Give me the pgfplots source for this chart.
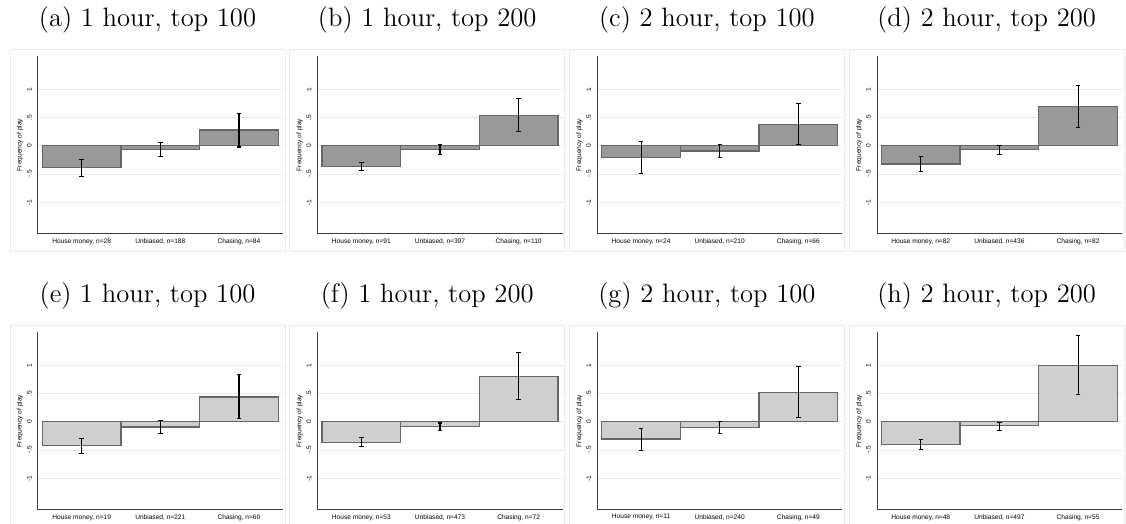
\documentclass[border=0pt]{standalone}
\usepackage{fontspec}
\usepackage{pgfplots}
\usepackage{pgfplotstable}
\pgfplotsset{compat=1.18}
\newfontfamily\stata{Liberation Sans}

\definecolor{barone}{HTML}{999999}
\definecolor{bartwo}{HTML}{CFCFCF}
\definecolor{bardraw}{HTML}{666666}
\definecolor{gridcol}{HTML}{E6E6E6}
\definecolor{framecol}{HTML}{EBEBEB}
\definecolor{axiscol}{HTML}{404040}

% x y ep em  (bar value, upper and lower error)
\pgfplotstableread{
x y ep em
1 -0.39 0.15 0.15
2 -0.065 0.118 0.125
3 0.28 0.29 0.30
}\tA
\pgfplotstableread{
x y ep em
1 -0.36 0.07 0.08
2 -0.06 0.08 0.09
3 0.54 0.30 0.28
}\tB
\pgfplotstableread{
x y ep em
1 -0.21 0.29 0.28
2 -0.09 0.11 0.12
3 0.38 0.37 0.355
}\tC
\pgfplotstableread{
x y ep em
1 -0.32 0.13 0.13
2 -0.065 0.075 0.085
3 0.69 0.38 0.37
}\tD
\pgfplotstableread{
x y ep em
1 -0.42 0.13 0.14
2 -0.09 0.115 0.11
3 0.44 0.39 0.38
}\tE
\pgfplotstableread{
x y ep em
1 -0.365 0.085 0.075
2 -0.08 0.06 0.08
3 0.80 0.42 0.41
}\tF
\pgfplotstableread{
x y ep em
1 -0.305 0.185 0.195
2 -0.095 0.105 0.105
3 0.52 0.46 0.44
}\tG
\pgfplotstableread{
x y ep em
1 -0.40 0.09 0.09
2 -0.07 0.06 0.08
3 0.99 0.53 0.51
}\tH

\pgfplotsset{panel/.style={
  scale only axis, width=122.5pt, height=89pt, anchor=south west,
  xmin=0.445, xmax=3.56, ymin=-1.56, ymax=1.59,
  axis x line*=bottom, axis y line*=left,
  axis line style={-, draw=axiscol, line width=0.5pt},
  xtick={1,2,3}, ytick={-1,-0.5,0,0.5,1}, yticklabels={-1,-.5,0,.5,1},
  major tick length=0pt,
  ymajorgrids, grid style={gridcol, line width=0.5pt},
  ticklabel style={font=\stata\fontsize{3.3}{3.9}\selectfont, inner sep=0pt},
  xticklabel style={anchor=north}, xticklabel shift=2pt,
  yticklabel style={rotate=90, anchor=south}, yticklabel shift=3pt,
  ylabel={Frequency of play},
  every axis y label/.style={at={(axis description cs:-0.0735,0.5)}, rotate=90,
    anchor=center, inner sep=0pt, font=\stata\fontsize{3.3}{3.9}\selectfont},
}}

\newcommand{\panel}[6]{%
  \begin{axis}[panel, at={(#1pt,#2pt)}, name=ax, xticklabels={#6}]
    \addplot[ybar, bar width=1, fill=#4, draw=bardraw, line width=0.6pt,
      error bars/.cd, y dir=both, y explicit,
      error mark=-,
      error bar style={black, line width=0.55pt},
      error mark options={rotate=90, black, mark size=1.1pt, line width=0.55pt}]
      table[x=x, y=y, y error plus=ep, y error minus=em] {#3};
  \end{axis}
  \draw[framecol, line width=0.5pt] ([shift={(-14pt,-9pt)}]ax.south west)
    rectangle ([shift={(123.5pt,92pt)}]ax.south west);
  \node[anchor=base, font=\fontsize{13.3}{15}\selectfont]
    at ([shift={(54.75pt,103.65pt)}]ax.south west) {#5};
}

\begin{document}
\begin{tikzpicture}
\useasboundingbox (0,0) rectangle (563pt,262pt);
\panel{19}{145}{\tA}{barone}{(a) 1 hour, top 100}{{House money, n=28},{Unbiased, n=188},{Chasing, n=84}}
\panel{158.85}{145}{\tB}{barone}{(b) 1 hour, top 200}{{House money, n=91},{Unbiased, n=397},{Chasing, n=110}}
\panel{298.7}{145}{\tC}{barone}{(c) 2 hour, top 100}{{House money, n=24},{Unbiased, n=210},{Chasing, n=66}}
\panel{438.55}{145}{\tD}{barone}{(d) 2 hour, top 200}{{House money, n=82},{Unbiased, n=436},{Chasing, n=82}}
\panel{19}{7}{\tE}{bartwo}{(e) 1 hour, top 100}{{House money, n=19},{Unbiased, n=221},{Chasing, n=60}}
\panel{158.85}{7}{\tF}{bartwo}{(f) 1 hour, top 200}{{House money, n=53},{Unbiased, n=473},{Chasing, n=72}}
\panel{298.7}{7}{\tG}{bartwo}{(g) 2 hour, top 100}{{House money, n=11},{Unbiased, n=240},{Chasing, n=49}}
\panel{438.55}{7}{\tH}{bartwo}{(h) 2 hour, top 200}{{House money, n=48},{Unbiased, n=497},{Chasing, n=55}}
\end{tikzpicture}
\end{document}
